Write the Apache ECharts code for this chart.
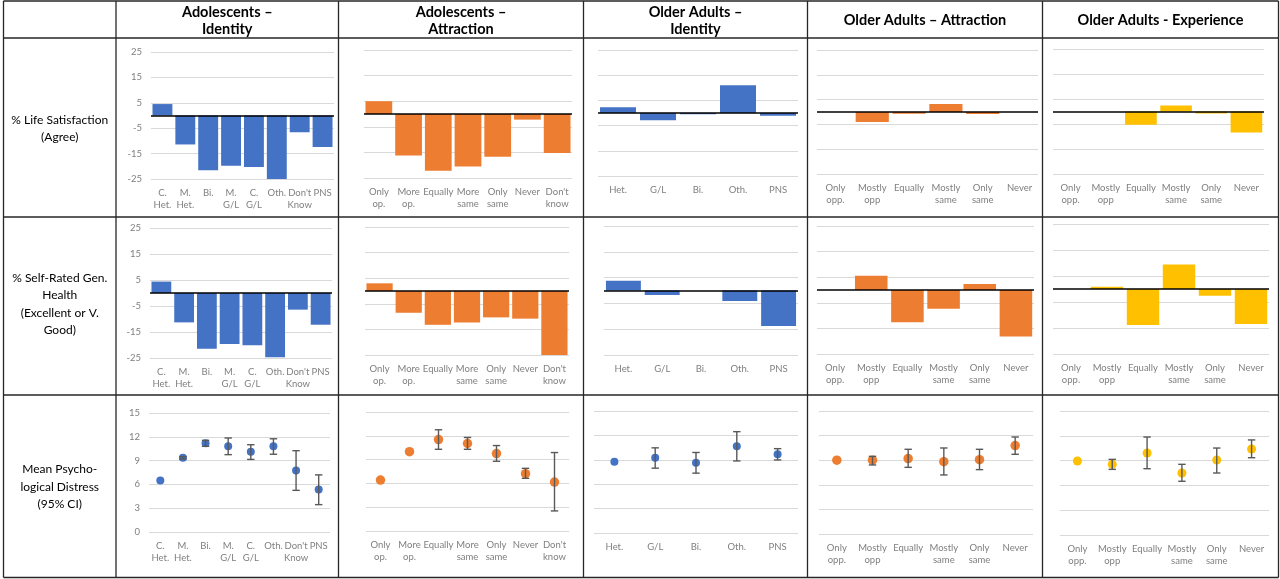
<!DOCTYPE html>
<html><head><meta charset="utf-8">
<script src="https://cdn.jsdelivr.net/npm/echarts@6/dist/echarts.min.js"></script>
<style>html,body{margin:0;padding:0;background:#fff}#c{width:1280px;height:579px}</style>
</head><body><div id="c"></div>
<script>
// ---------- DATA ----------
const colHeaders = ['Adolescents –\nIdentity', 'Adolescents –\nAttraction', 'Older Adults –\nIdentity', 'Older Adults – Attraction', 'Older Adults - Experience'];
const rowLabels = ['% Life Satisfaction\n(Agree)', '% Self-Rated Gen.\nHealth\n(Excellent or V.\nGood)', 'Mean Psycho-\nlogical Distress\n(95% CI)'];

const adoIdCats = ['C.\nHet.', 'M.\nHet.', 'Bi.', 'M.\nG/L', 'C.\nG/L', 'Oth.', "Don't\nKnow", 'PNS'];
const adoAttCats = ['Only\nop.', 'More\nop.', 'Equally', 'More\nsame', 'Only\nsame', 'Never', "Don't\nknow"];
const oldIdCats = ['Het.', 'G/L', 'Bi.', 'Oth.', 'PNS'];
const oldAttCats = ['Only\nopp.', 'Mostly\nopp', 'Equally', 'Mostly\nsame', 'Only\nsame', 'Never'];
const oldExpCats = ['Only\nopp.', 'Mostly\nopp', 'Equally', 'Mostly\nsame', 'Only\nsame', 'Never'];

const barTicks = [-25, -15, -5, 5, 15, 25];
const distressTicks = [0, 3, 6, 9, 12, 15];

const lifeAdoId = [4.5, -11.4, -21.6, -19.8, -20.3, -25, -6.6, -12.4];
const lifeAdoAtt = [5.0, -16.2, -22.2, -20.5, -16.7, -2.2, -15.2];
const lifeOldId = [2.3, -2.9, -0.5, 11.0, -1.1];
const lifeOldAtt = [0, -4.0, -0.7, 3.2, -0.8, 0];
const lifeOldExp = [0, 0, -5.3, 2.4, -0.8, -8.4];

const healthAdoId = [4.4, -11.3, -21.4, -19.6, -20.1, -24.7, -6.4, -12.2];
const healthAdoAtt = [3.0, -8.5, -13.2, -12.3, -10.3, -10.8, -25];
const healthOldId = [3.8, -1.7, 0, -4.1, -13.8];
const healthOldAtt = [0, 5.6, -12.6, -7.3, 2.3, -18.2];
const healthOldExp = [0, 0.9, -13.8, 9.4, -2.6, -13.5];

const distAdoId = [6.5, 9.35, 11.2, 10.8, 10.1, 10.8, 7.75, 5.35];
const distAdoIdLo = [null, 9.2, 10.8, 9.75, 9.15, 9.8, 5.25, 3.45];
const distAdoIdHi = [null, 9.5, 11.55, 11.85, 11.0, 11.75, 10.25, 7.2];

const distAdoAtt = [6.42, 10.0, 11.53, 11.03, 9.76, 7.22, 6.17];
const distAdoAttLo = [null, null, 10.3, 10.3, 8.79, 6.64, 2.53];
const distAdoAttHi = [null, null, 12.76, 11.79, 10.77, 7.9, 9.89];

const distOldId = [8.75, 9.24, 8.63, 10.68, 9.67];
const distOldIdLo = [null, 7.97, 7.36, 8.86, 8.98];
const distOldIdHi = [null, 10.47, 9.9, 12.46, 10.37];

const distOldAtt = [9.0, 9.0, 9.2, 8.82, 9.06, 10.78];
const distOldAttLo = [null, 8.42, 8.13, 7.2, 7.85, 9.72];
const distOldAttHi = [null, 9.47, 10.33, 10.49, 10.33, 11.83];

const distOldExp = [8.95, 8.55, 9.92, 7.5, 9.07, 10.4];
const distOldExpLo = [null, 7.94, 8.02, 6.5, 7.5, 9.35];
const distOldExpHi = [null, 9.15, 11.85, 8.55, 10.52, 11.5];

// ---------- LAYOUT / STYLE ----------
const colors = ['#4472C4', '#ED7D31', '#4472C4', '#ED7D31', '#FFC000'];
const markerSizes = [8, 9.5, 8, 9.5, 9];
const cats = [adoIdCats, adoAttCats, oldIdCats, oldAttCats, oldExpCats];
const lifeRows = [lifeAdoId, lifeAdoAtt, lifeOldId, lifeOldAtt, lifeOldExp];
const healthRows = [healthAdoId, healthAdoAtt, healthOldId, healthOldAtt, healthOldExp];
const distRows = [
  [distAdoId, distAdoIdLo, distAdoIdHi],
  [distAdoAtt, distAdoAttLo, distAdoAttHi],
  [distOldId, distOldIdLo, distOldIdHi],
  [distOldAtt, distOldAttLo, distOldAttHi],
  [distOldExp, distOldExpLo, distOldExpHi]
];
// grid rects [left, top, right, bottom]
const rects = [
  [[151, 52, 334, 179], [364, 50, 572, 178], [598, 50, 798, 176], [817, 50, 1038, 174], [1053, 49, 1264, 174]],
  [[150, 228, 332, 358], [365, 227, 569, 355], [604, 226, 798, 355], [817, 226, 1034, 354], [1053, 224, 1269, 354]],
  [[149, 413, 330, 532], [366, 412, 569, 531], [594, 411, 798, 533], [819, 411, 1033, 534], [1060, 411, 1269, 535]]
];
const vLines = [3.5, 116, 338.5, 583.5, 807.5, 1042.5, 1278.5];
const hLines = [1, 38, 217, 395, 577.5];
const rowCenters = [128.5, 304, 487];
const FONT = 'Lato, "Open Sans", sans-serif';
const labelGray = '#7F7F7F';
const gridGray = '#D9D9D9';

const grid = [], xAxis = [], yAxis = [], series = [];
let gi = 0;
for (let r = 0; r < 3; r++) {
  for (let c = 0; c < 5; c++) {
    const [l, t, rr, b] = rects[r][c];
    grid.push({ left: l, top: t, width: rr - l, height: b - t, containLabel: false });
    xAxis.push({
      type: 'category', gridIndex: gi, data: cats[c],
      axisLine: { show: false }, axisTick: { show: false },
      axisLabel: { interval: 0, color: labelGray, fontSize: 9.5, lineHeight: 12, fontFamily: FONT, margin: 8 },
      splitLine: { show: false }
    });
    const ticks = r < 2 ? barTicks : distressTicks;
    yAxis.push({
      type: 'value', gridIndex: gi,
      min: ticks[0], max: ticks[ticks.length - 1],
      axisLine: { show: false },
      axisTick: { show: false, customValues: ticks },
      axisLabel: { show: c === 0, customValues: ticks, color: labelGray, fontSize: 9.5, fontFamily: FONT, margin: 9 },
      splitLine: { show: true, lineStyle: { color: gridGray, width: 1 } }
    });
    if (r < 2) {
      const vals = r === 0 ? lifeRows[c] : healthRows[c];
      series.push({
        type: 'bar', xAxisIndex: gi, yAxisIndex: gi, data: vals,
        barCategoryGap: c === 0 ? '13%' : '10%',
        itemStyle: { color: colors[c] },
        silent: true,
        markLine: {
          silent: true, symbol: 'none', label: { show: false },
          lineStyle: { color: '#000', width: 1.5, type: 'solid' },
          data: [{ yAxis: 0 }]
        }
      });
    } else {
      const [m, lo, hi] = distRows[c];
      const err = [];
      for (let i = 0; i < m.length; i++) if (lo[i] != null) err.push([i, lo[i], hi[i]]);
      series.push({
        type: 'scatter', xAxisIndex: gi, yAxisIndex: gi, data: m,
        symbol: 'circle', symbolSize: markerSizes[c],
        itemStyle: { color: colors[c], opacity: 1 }, silent: true, z: 2
      });
      series.push({
        type: 'custom', xAxisIndex: gi, yAxisIndex: gi, data: err, z: 3, silent: true,
        encode: { x: 0, y: [1, 2] },
        renderItem: function (params, api) {
          const x = api.value(0);
          const p1 = api.coord([x, api.value(2)]);
          const p2 = api.coord([x, api.value(1)]);
          const w = 3.7;
          const st = { stroke: '#595959', lineWidth: 1.4 };
          return {
            type: 'group', children: [
              { type: 'line', shape: { x1: p1[0], y1: p1[1], x2: p2[0], y2: p2[1] }, style: st },
              { type: 'line', shape: { x1: p1[0] - w, y1: p1[1], x2: p1[0] + w, y2: p1[1] }, style: st },
              { type: 'line', shape: { x1: p2[0] - w, y1: p2[1], x2: p2[0] + w, y2: p2[1] }, style: st }
            ]
          };
        }
      });
    }
    gi++;
  }
}

const graphic = [];
const lineStyle = { stroke: '#262626', lineWidth: 1.3 };
vLines.forEach(x => graphic.push({ type: 'line', silent: true, shape: { x1: x, y1: hLines[0], x2: x, y2: hLines[hLines.length - 1] }, style: lineStyle }));
hLines.forEach(y => graphic.push({ type: 'line', silent: true, shape: { x1: vLines[0], y1: y, x2: vLines[vLines.length - 1], y2: y }, style: lineStyle }));
colHeaders.forEach((h, i) => {
  graphic.push({
    type: 'text', silent: true,
    style: {
      text: h, x: (vLines[i + 1] + vLines[i + 2]) / 2, y: 20.5,
      align: 'center', verticalAlign: 'middle',
      font: 'bold 14.5px ' + FONT, lineHeight: 17, fill: '#000'
    }
  });
});
rowLabels.forEach((t, i) => {
  graphic.push({
    type: 'text', silent: true,
    style: {
      text: t, x: (vLines[0] + vLines[1]) / 2, y: rowCenters[i],
      align: 'center', verticalAlign: 'middle',
      font: '12px ' + FONT, lineHeight: 17.5, fill: '#000'
    }
  });
});

const chart = echarts.init(document.getElementById('c'), null, { renderer: 'canvas' });
chart.setOption({
  backgroundColor: '#fff',
  animation: false,
  grid, xAxis, yAxis, series, graphic
});
</script>
</body></html>
